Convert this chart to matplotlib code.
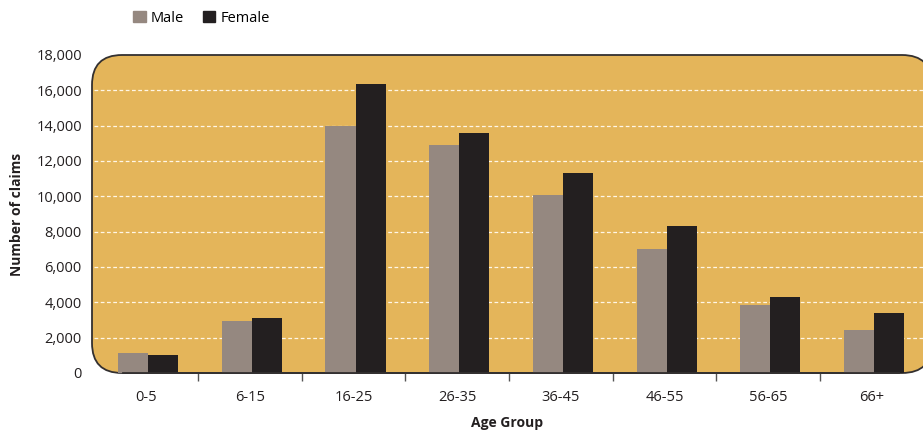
import numpy as np
import matplotlib
matplotlib.use('Agg')
import matplotlib.pyplot as plt
from matplotlib.patches import FancyBboxPatch, Patch
from matplotlib.transforms import IdentityTransform

age_groups = ['0-5', '6-15', '16-25', '26-35', '36-45', '46-55', '56-65', '66+']
male = [1150, 2940, 14000, 12900, 10070, 7020, 3850, 2430]
female = [1020, 3110, 16360, 13580, 11320, 8320, 4300, 3400]
yticks = [0, 2000, 4000, 6000, 8000, 10000, 12000, 14000, 16000, 18000]

plt.rcParams['font.family'] = ['Open Sans', 'DejaVu Sans']
plt.rcParams['font.size'] = 10

W, H = 923, 434
fig = plt.figure(figsize=(W / 100, H / 100), dpi=100)
left, right, bottom, top = 94.3, 923.7, 373, 55
ax = fig.add_axes([left / W, (H - bottom) / H, (right - left) / W, (bottom - top) / H])
ax.patch.set_visible(False)

x = np.arange(len(age_groups))
w = 0.29
off = 0.02
ax.bar(x + off - w / 2, male, w, color='#958880', zorder=2, label='Male')
ax.bar(x + off + w / 2, female, w, color='#231F20', zorder=2, label='Female')

ax.set_xlim(-0.5, len(age_groups) - 0.5)
ax.set_ylim(0, 18000)

# rounded orange background box (pixel coords, runs past the right edge)
box = FancyBboxPatch((92, H - bottom), 840, bottom - top,
                     boxstyle="round,pad=0,rounding_size=30",
                     transform=IdentityTransform(),
                     facecolor='#E4B55A', edgecolor='#333030', linewidth=1.3,
                     zorder=0, clip_on=False)
ax.add_artist(box)

# white dashed gridlines
for v in yticks[1:-1]:
    ax.axhline(v, color='#FFF6E6', linestyle=(0, (3, 2)), linewidth=0.9, zorder=1)

for s in ['top', 'right', 'left', 'bottom']:
    ax.spines[s].set_visible(False)
ax.axhline(0, xmin=0.035, xmax=0.97, color='#333030', linewidth=1.3, zorder=3, clip_on=False)

ax.set_yticks(yticks)
ax.set_yticklabels(['{:,}'.format(v) for v in yticks])
ax.tick_params(axis='y', length=0, pad=9, labelsize=10.5, colors='#231F20')

ax.set_xticks(x)
ax.set_xticklabels(age_groups)
ax.set_xticks(np.arange(1, len(age_groups)) - 0.5, minor=True)
ax.tick_params(axis='x', which='major', length=0, pad=12, labelsize=10.5, colors='#231F20')
ax.tick_params(axis='x', which='minor', length=6, width=1, color='#555555', direction='out')

fig.text(17 / W, (H - 214) / H, 'Number of claims', rotation=90, ha='center', va='center',
         fontsize=10, fontweight='bold', color='#231F20')
fig.text(507 / W, (H - 423) / H, 'Age Group', ha='center', va='center',
         fontsize=10, fontweight='bold', color='#231F20')

handles = [Patch(color='#958880', label='Male'), Patch(color='#231F20', label='Female')]
fig.legend(handles=handles, loc='center left', bbox_to_anchor=(120 / W, (H - 18) / H),
           ncol=2, frameon=False, handlelength=0.85, handleheight=0.85,
           handletextpad=0.35, columnspacing=1.3, fontsize=10.5)

fig.savefig('out.png', dpi=100)
